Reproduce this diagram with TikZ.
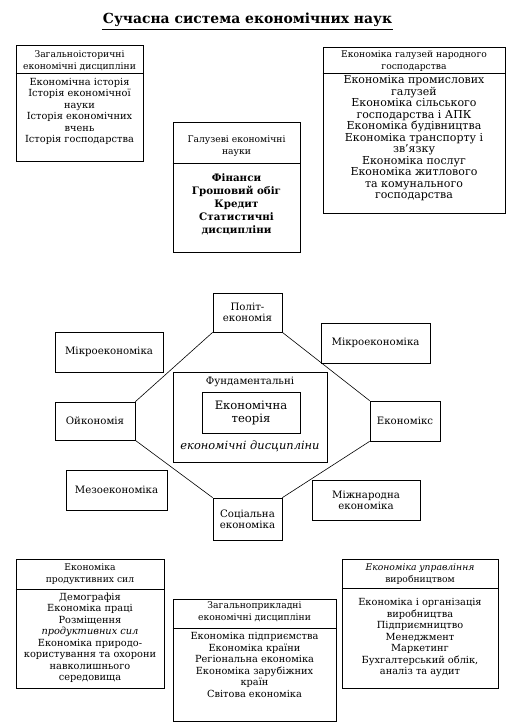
\documentclass[tikz,border=0pt]{standalone}
\usepackage{fontspec}
\setmainfont{DejaVu Serif}
\usetikzlibrary{fit}
\begin{document}
\begin{tikzpicture}[x=1pt,y=-1pt,
  frame/.style={draw, line width=0.7pt, inner sep=0pt},
  sepline/.style={draw, line width=0.7pt},
  hdr/.style={align=center, font=\fontsize{9.2}{12}\selectfont, inner sep=0pt},
  bodytxt/.style={align=center, font=\fontsize{9.8}{11.5}\selectfont, inner sep=0pt},
  lbl/.style={align=center, font=\fontsize{10.2}{11}\selectfont, inner sep=0pt},
  conn/.style={line width=0.6pt}]
\useasboundingbox (0,0) rectangle (510,726);

% title
\node[font=\bfseries\fontsize{13.9}{15}\selectfont, inner sep=1pt] (title) at (247.5,20) {Сучасна система економічних наук};
\draw[line width=0.8pt] ([yshift=-1pt]title.south west) -- ([yshift=-1pt]title.south east);

% box 1
\node[frame, fit={(16,45) (143,161)}] (b1) {};
\coordinate (b1s) at (0,73);
\draw[sepline] (b1.west |- b1s) -- (b1.east |- b1s);
\node[hdr] (b1h) at (79.5,61) {Загальноісторичні\\економічні дисципліни};
\node[bodytxt] (b1b) at (79.5,111.5) {Економічна історія\\Історія економічної\\науки\\Історія економічних\\вчень\\Історія господарства};

% box 2
\node[frame, fit={(323,47) (505,213)}] (b2) {};
\coordinate (b2s) at (0,73);
\draw[sepline] (b2.west |- b2s) -- (b2.east |- b2s);
\node[hdr] (b2h) at (414,61) {Економіка галузей народного\\господарства};
\node[bodytxt, font=\fontsize{11}{11.5}\selectfont] (b2b) at (414,138.5) {Економіка промислових\\галузей\\Економіка сільського\\господарства і АПК\\Економіка будівництва\\Економіка транспорту і\\зв'язку\\Економіка послуг\\Економіка житлового\\та комунального\\господарства};

% box 3
\node[frame, fit={(173,122) (300,252)}] (b3) {};
\coordinate (b3s) at (0,163);
\draw[sepline] (b3.west |- b3s) -- (b3.east |- b3s);
\node[hdr] (b3h) at (236.5,146) {Галузеві економічні\\науки};
\node[bodytxt, font=\bfseries\fontsize{10.3}{13}\selectfont] (b3b) at (236.5,204) {Фінанси\\Грошовий обіг\\Кредит\\Статистичні\\дисципліни};

% central part
\node[frame, fit={(213,293) (282,332)}] (polbox) {};
\node[lbl] (pol) at (polbox.center) {Політ-\\економія};
\node[frame, fit={(55,332) (163,372)}] (micl) {};
\node[lbl] at (micl.center) {Мікроекономіка};
\node[frame, fit={(321,323) (430,363)}] (micr) {};
\node[lbl] at (micr.center) {Мікроекономіка};
\node[frame, fit={(173,372) (327,462)}] (fund) {};
\node[lbl] (fundt) at (250,382) {Фундаментальні};
\node[lbl, font=\itshape\fontsize{11.4}{12}\selectfont] (fundb) at (250,446) {економічні дисципліни};
\node[frame, fit={(202,392) (300,433)}] (theory) {};
\node[lbl, font=\fontsize{11.6}{13}\selectfont] at (theory.center) {Економічна\\теорія};
\node[frame, fit={(55,402) (135,440)}] (oik) {};
\node[lbl] at (oik.center) {Ойкономія};
\node[frame, fit={(370,401) (440,441)}] (ekx) {};
\node[lbl] at (ekx.center) {Економікс};
\node[frame, fit={(66,470) (167,510)}] (mezo) {};
\node[lbl] at (mezo.center) {Мезоекономіка};
\node[frame, fit={(213,498) (282,540)}] (soc) {};
\node[lbl] at (soc.center) {Соціальна\\економіка};
\node[frame, fit={(312,480) (420,520)}] (mizh) {};
\node[lbl] at (mizh.center) {Міжнародна\\економіка};

\draw[conn] (polbox.south west) -- (oik.north east);
\draw[conn] (polbox.south east) -- (ekx.north west);
\draw[conn] (oik.south east) -- (soc.north west);
\draw[conn] (soc.north east) -- (ekx.south west);

% bottom boxes
\node[frame, fit={(16,559) (164,688)}] (b4) {};
\coordinate (b4s) at (0,589);
\draw[sepline] (b4.west |- b4s) -- (b4.east |- b4s);
\node[hdr] (b4h) at (90,574) {Економіка\\продуктивних сил};
\node[bodytxt] (b4b) at (90,638) {Демографія\\Економіка праці\\Розміщення\\\textit{продуктивних сил}\\Економіка природо-\\користування та охорони\\навколишнього\\середовища};

\node[frame, fit={(173,599) (336,721)}] (b5) {};
\coordinate (b5s) at (0,628);
\draw[sepline] (b5.west |- b5s) -- (b5.east |- b5s);
\node[hdr] (b5h) at (254.5,611.5) {Загальноприкладні\\економічні дисципліни};
\node[bodytxt] (b5b) at (254.5,665) {Економіка підприємства\\Економіка країни\\Регіональна економіка\\Економіка зарубіжних\\країн\\Світова економіка};

\node[frame, fit={(342,559) (498,688)}] (b6) {};
\coordinate (b6s) at (0,588);
\draw[sepline] (b6.west |- b6s) -- (b6.east |- b6s);
\node[hdr] (b6h) at (420,574) {\textit{Економіка управління}\\виробництвом};
\node[bodytxt] (b6b) at (420,637.5) {Економіка і організація\\виробництва\\Підприємництво\\Менеджмент\\Маркетинг\\Бухгалтерський облік,\\аналіз та аудит};
\end{tikzpicture}
\end{document}
